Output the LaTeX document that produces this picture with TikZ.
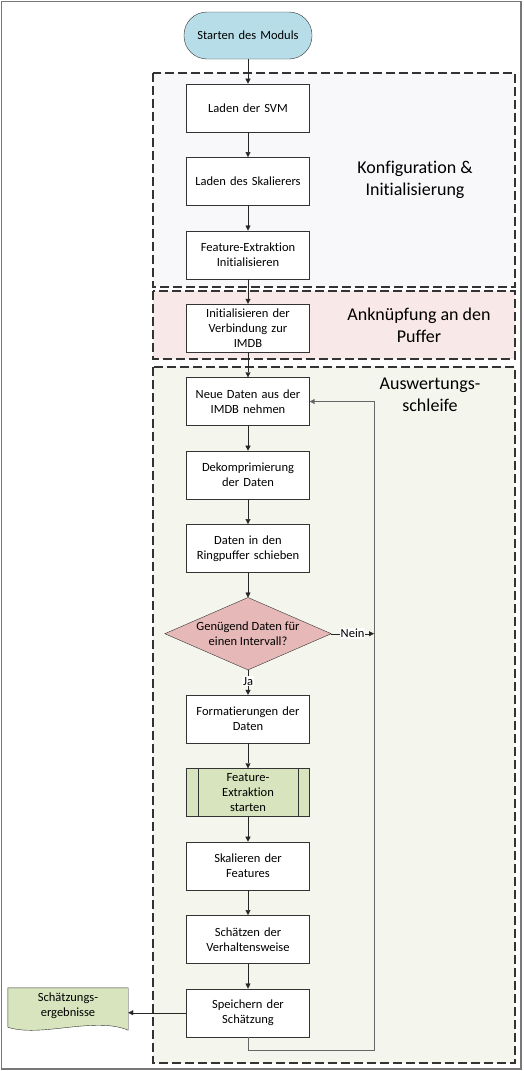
\documentclass[tikz,border=0pt]{standalone}
\usepackage{fontspec}
\setmainfont{Carlito}[Ligatures=NoCommon]
\usepackage{tikz}
\usetikzlibrary{positioning,arrows.meta,backgrounds}
\definecolor{startblue}{RGB}{183,222,232}
\definecolor{diared}{RGB}{230,185,184}
\definecolor{docgreen}{RGB}{215,228,189}
\definecolor{grpone}{RGB}{248,248,251}
\definecolor{grptwo}{RGB}{248,232,231}
\definecolor{grpthree}{RGB}{244,246,237}
\definecolor{rimgray}{RGB}{120,120,120}
\tikzset{
  box/.style={draw=black!80, fill=white, minimum width=123pt, minimum height=48pt,
    text width=118pt, align=center, font=\fontsize{12.5}{15}\selectfont, inner sep=1pt},
  startbox/.style={box, rounded corners=23pt, fill=startblue, minimum width=128pt, minimum height=47pt},
  boxtext/.style={align=center, font=\fontsize{12.5}{15}\selectfont},
  subproc/.style={box, fill=docgreen},
  grp/.style={draw=black!80, line width=1.3pt, dash pattern=on 9pt off 4pt},
  grplabel/.style={align=center, font=\fontsize{18}{22}\selectfont},
  flow/.style={draw=black!85, -{Triangle[length=5pt,width=5pt]}},
  tag/.style={fill=white, inner sep=1pt, font=\fontsize{12.5}{13}\selectfont}
}
\begin{document}
\begin{tikzpicture}[x=1pt, y=-1pt, node distance=25pt]
  \useasboundingbox (0,0) rectangle (524,1071);
  \draw[rimgray, line width=1.5pt] (1.5,1.5) rectangle (521,1069);

  % groups
  \begin{scope}[on background layer]
    \draw[grp, fill=grpone] (153,73) rectangle (515,287);
    \draw[grp, fill=grptwo] (153,291) rectangle (515,359);
    \draw[grp, fill=grpthree] (153,367) rectangle (515,1063);
  \end{scope}
  \node[grplabel] (lkonf) at (415,180) {Konfiguration \&\\Initialisierung};
  \node[grplabel] (lpuf) at (419,325) {Anknüpfung an den\\Puffer};
  \node[grplabel] (lausw) at (430,395) {Auswertungs-\\schleife};

  % main flow
  \node[startbox] (start) at (248,35.5) {Starten des Moduls};
  \node[box, below=24.5pt of start] (svm) {Laden der SVM};
  \node[box, below=of svm] (skal) {Laden des Skalierers};
  \node[box, below=of skal] (feinit) {Feature-Extraktion\\Initialisieren};
  \node[box, below=of feinit] (verb) {Initialisieren der\\Verbindung zur\\IMDB};
  \node[box, below=of verb] (neu) {Neue Daten aus der\\IMDB nehmen};
  \node[box, below=of neu] (dekomp) {Dekomprimierung\\der Daten};
  \node[box, below=of dekomp] (ring) {Daten in den\\Ringpuffer schieben};
  \node[boxtext, below=of ring, minimum width=166pt, minimum height=72pt] (dia) {Genügend Daten für\\einen Intervall?};
  \begin{scope}[on background layer]
    \filldraw[fill=diared, draw=black!80] (dia.north) -- (dia.east) -- (dia.south) -- (dia.west) -- cycle;
  \end{scope}
  \node[box, below=of dia] (form) {Formatierungen der\\Daten};
  \node[subproc, below=of form] (fext) {Feature-\\Extraktion\\starten};
  \draw[black!80] ([xshift=12pt]fext.north west) -- ([xshift=12pt]fext.south west)
    ([xshift=-12pt]fext.north east) -- ([xshift=-12pt]fext.south east);
  \node[box, below=of fext] (skf) {Skalieren der\\Features};
  \node[box, below=of skf] (schaetz) {Schätzen der\\Verhaltensweise};
  \node[box, below=of schaetz] (speich) {Speichern der\\Schätzung};

  % output document
  \node[boxtext, minimum width=120pt, minimum height=36pt, text width=110pt] (erg) at (68,1006) {Schätzungs-\\ergebnisse};
  \begin{scope}[on background layer]
    \filldraw[fill=docgreen, draw=black!80] (erg.north west) -- (erg.north east)
      -- ([yshift=-6pt]erg.south east) .. controls (95,1016) and (40,1038) .. ([yshift=-3pt]erg.south west) -- cycle;
  \end{scope}

  % connectors
  \coordinate (loop) at (374,1050);
  \foreach \a/\b in {start/svm, svm/skal, skal/feinit, feinit/verb, verb/neu,
                     neu/dekomp, dekomp/ring, ring/dia, form/fext, fext/skf,
                     skf/schaetz, schaetz/speich}
    \draw[flow] (\a) -- (\b);
  \draw[flow] (dia.south) -- node[tag, pos=0.45] (ja) {Ja} (form);
  \draw[flow] (dia.east) -- node[tag, pos=0.5] (nein) {Nein} (dia.east -| loop);
  \draw[flow, draw=black!60, line width=1pt] (speich.south) -- (speich.south |- loop) -- (loop) |- (neu.east);
  \draw[flow] (speich.west) -- (speich.west -| erg.east);
\end{tikzpicture}
\end{document}
